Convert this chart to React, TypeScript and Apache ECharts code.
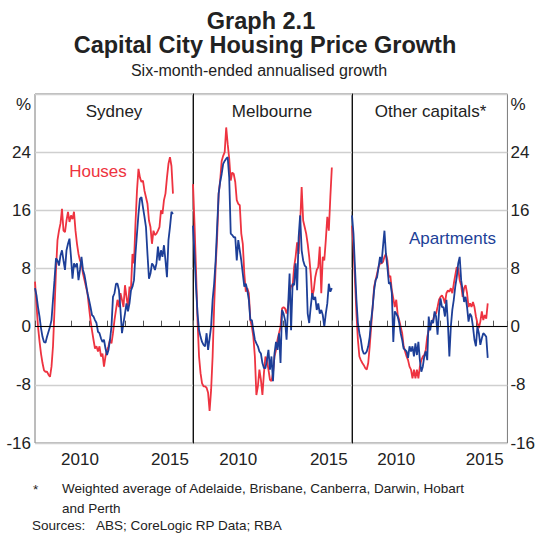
import React, { useEffect, useRef } from "react";
import * as echarts from "echarts";

// ---- Data (six-month-ended annualised growth, %, monthly from Jan 2008) ----
const START_YEAR = 2008;
const yTicks = [-16, -8, 0, 8, 16, 24];
const xTickLabels = ["2010", "2015"];
const panelTitles = ["Sydney", "Melbourne", "Other capitals*"];

const sydneyHouses = [
  6.2, 3.0, 0.0, -2.0, -3.7, -5.0, -6.0, -6.2, -6.2, -6.6, -6.9, -5.5, -2.7, 2.3, 7.8, 11.9, 13.2, 14.2, 16.2, 13.2,
  13.0, 14.6, 15.8, 14.4, 15.3, 14.8, 15.8, 13.2, 11.4, 10.0, 9.1, 8.7, 7.3, 6.4, 5.5, 4.6, 2.7, 0.9, -0.5, -1.8,
  -3.0, -2.7, -3.4, -2.7, -4.1, -3.7, -5.5, -4.1, -3.2, -2.7, -1.8, -2.3, -0.9, 0.9, 2.3, 3.7, 2.7, 4.6, 3.7, 2.7,
  5.7, 4.1, 2.7, 5.5, 5.2, 10.0, 8.7, 14.2, 18.7, 21.7, 20.5, 19.9, 20.1, 18.7, 17.8, 16.9, 14.6, 13.7, 11.4, 13.2,
  12.6, 12.8, 13.2, 13.7, 16.0, 15.5, 17.4, 18.3, 20.5, 22.4, 23.3, 22.1, 18.3,
];
const sydneyApartments = [
  5.3, 4.3, 2.7, 1.4, -0.2, -1.4, -2.1, -2.2, -1.4, -0.7, 0.0, 0.9, 3.7, 6.4, 9.4, 9.1, 8.4, 9.8, 10.5, 9.1,
  7.8, 10.5, 11.4, 12.1, 9.6, 6.6, 8.7, 8.2, 8.7, 6.4, 7.8, 9.6, 7.8, 7.1, 5.9, 4.6, 3.7, 2.7, 1.6, 1.4,
  0.9, 0.5, -0.7, -0.9, -1.6, -2.1, -1.8, -3.0, -3.9, -3.2, -1.8, 0.0, 4.1, 4.6, 5.9, 5.9, 5.0, 2.3, -0.9, 0.5,
  1.8, 3.2, 2.1, 3.2, 5.0, 5.5, 6.4, 10.0, 12.8, 15.5, 17.6, 17.8, 16.4, 15.1, 13.7, 10.0, 6.6, 7.3, 8.7, 8.4,
  7.8, 8.7, 11.0, 9.1, 10.5, 9.6, 11.2, 9.1, 6.8, 11.9, 13.7, 15.8, 15.5,
];
const melbourneHouses = [
  19.6, 14.2, 7.8, 0.9, -4.1, -6.4, -7.8, -8.2, -8.2, -8.4, -9.1, -11.6, -8.7, -4.1, 2.7, 8.2, 12.3, 18.3, 20.1, 22.8,
  23.5, 24.0, 27.4, 25.1, 23.1, 20.1, 21.2, 21.0, 19.9, 17.4, 16.9, 16.7, 12.8, 11.4, 7.3, 4.8, 5.3, 4.6, 0.9, 0.0,
  -1.4, -4.1, -9.4, -8.2, -5.9, -7.3, -9.4, -6.4, -4.1, -4.6, -5.9, -7.3, -7.5, -6.4, -4.1, -3.2, -1.8, -0.9, 0.0, 2.5,
  2.7, 2.5, 1.8, 2.7, 4.6, 5.7, 5.5, 8.2, 9.6, 11.6, 10.0, 14.2, 19.2, 14.6, 13.7, 12.8, 11.4, 9.6, 7.3, 4.1,
  5.0, 6.8, 7.8, 8.2, 11.0, 4.6, 9.6, 9.1, 11.9, 15.1, 13.2, 17.8, 21.9,
];
const melbourneApartments = [
  13.9, 10.0, 5.5, 1.8, -0.5, -1.4, -2.1, -2.5, -2.7, -0.9, -3.2, -1.6, 0.0, 3.7, 5.9, 9.1, 13.7, 18.3, 19.9, 21.0,
  22.4, 22.8, 23.1, 23.3, 20.5, 12.8, 12.6, 12.3, 12.3, 9.1, 11.9, 10.5, 9.1, 7.3, 5.5, 5.9, 5.0, 3.7, 0.9, 0.9,
  -0.5, -1.8, -2.3, -2.7, -3.4, -3.7, -5.0, -5.7, -5.7, -4.6, -3.2, -5.9, -4.1, -7.5, -3.7, -2.1, -3.2, -0.9, -5.0, 2.3,
  1.8, 0.9, -1.8, 2.7, 7.3, -0.5, 5.9, 5.7, 8.7, 5.0, 12.3, 15.3, 10.5, 9.1, 8.4, 8.2, 1.8, 0.5, 2.7, 4.6,
  3.7, 4.1, 2.3, 3.2, 1.8, 2.3, 1.6, 0.0, 1.8, 3.2, 5.9, 4.8, 5.3,
];
const otherHouses = [
  13.9, 11.0, 6.4, 1.8, -1.8, -4.1, -4.6, -5.0, -5.3, -5.7, -5.9, -5.0, -2.7, 0.0, 2.7, 5.5, 6.4, 7.3, 8.2, 8.7,
  8.7, 8.9, 9.6, 10.0, 9.1, 6.8, 7.0, 5.0, 3.9, 2.7, 3.7, 1.6, 0.9, 0.0, -0.9, -2.7, -3.4, -4.1, -4.6, -5.5,
  -5.9, -7.1, -5.9, -7.1, -5.9, -7.1, -5.5, -4.6, -4.1, -3.9, -3.2, -1.4, -0.5, 0.0, 0.5, 0.9, 1.8, 1.8, 2.7, 3.7,
  4.1, 4.3, 3.9, 3.2, 4.6, 5.0, 4.8, 5.3, 4.6, 5.9, 7.1, 8.2, 8.0, 6.4, 5.7, 4.1, 5.3, 5.7, 4.6, 2.7,
  3.2, 2.7, 3.4, 2.7, 1.4, 0.5, -0.2, 0.7, 2.1, 0.9, 1.6, 1.1, 3.2,
];
const otherApartments = [
  15.3, 12.8, 8.2, 3.7, 0.5, -0.9, -1.8, -3.2, -3.7, -3.7, -3.4, -2.7, -1.4, 0.9, 2.7, 5.0, 6.4, 6.8, 8.2, 9.6,
  8.7, 11.0, 13.2, 10.0, 8.2, 5.9, 6.1, 4.6, -2.1, 2.1, 1.8, 1.4, 0.5, -0.9, -1.8, -3.0, -3.2, -3.4, -4.3, -2.7,
  -3.4, -2.7, -4.1, -2.3, -3.9, -2.1, -4.6, -6.2, -5.5, -4.1, -3.4, -4.6, 1.4, -0.5, 0.9, 0.5, 2.1, 1.4, -1.1, 2.1,
  3.9, 2.7, 2.7, 1.4, 3.7, 0.5, -4.1, 0.0, 2.3, 3.7, 5.5, 6.8, 8.7, 9.6, 6.4, 5.0, 3.4, 4.1, 2.7, 0.7,
  1.8, 1.4, 0.0, -1.8, -2.7, 0.0, -0.9, -2.5, -1.6, -0.9, -1.1, -1.4, -4.3,
];

const RED = "#ee3340";
const BLUE = "#1d3f98";
const FONT = "'Liberation Sans', Arial, Helvetica, sans-serif";

const toPoints = (vals: number[]) => vals.map((v, i) => [START_YEAR + i / 12, v]);

export default function App() {
  const ref = useRef<HTMLDivElement>(null);

  useEffect(() => {
    if (!ref.current) return;
    const chart = echarts.init(ref.current, null, { renderer: "svg" });

    const gridTop = 94;
    const gridH = 349;
    const grids = [
      { left: 35, top: gridTop, width: 158, height: gridH },
      { left: 193, top: gridTop, width: 159, height: gridH },
      { left: 352, top: gridTop, width: 158, height: gridH },
    ].map((g) => ({ ...g, show: true, borderColor: "#7a7a7a", borderWidth: 1, backgroundColor: "transparent" }));

    const xAxes: any[] = [];
    [0, 1, 2].forEach((i) => {
      xAxes.push({
        gridIndex: i,
        type: "value",
        position: "bottom",
        min: 2008,
        max: 2016.78,
        interval: 1,
        axisLine: { show: false },
        axisTick: { show: true, inside: true, length: 6, lineStyle: { color: "#555", width: 1 } },
        axisLabel: { show: false },
        splitLine: { show: false },
      });
      xAxes.push({
        gridIndex: i,
        type: "value",
        position: "bottom",
        min: 2008,
        max: 2016.78,
        interval: 0.5,
        axisLine: { show: false },
        axisTick: { show: false },
        axisLabel: {
          interval: 0,
          margin: 8,
          fontSize: 17,
          color: "#222",
          fontFamily: FONT,
          showMinLabel: false,
          showMaxLabel: false,
          formatter: (v: number) => {
            for (const t of xTickLabels) {
              if (Math.abs(v - (Number(t) + 0.5)) < 1e-6) return t;
            }
            return "";
          },
        },
        splitLine: { show: false },
      });
    });

    const yLabelFmt = (v: number) => (v === 32 ? "{pct|%}" : yTicks.includes(v) ? String(v) : "");
    const yLabel = (show: boolean) => ({
      show,
      fontSize: 17,
      color: "#222",
      fontFamily: FONT,
      margin: 4,
      formatter: yLabelFmt,
      rich: { pct: { fontSize: 17, color: "#222", fontFamily: FONT, padding: [20, 0, 0, 0] } },
    });
    const split = { show: true, lineStyle: { color: "#cfcfcf", width: 1.3 } };
    const yAxes: any[] = [
      { gridIndex: 0, type: "value", position: "left", min: -16, max: 32, interval: 8,
        axisLine: { show: false }, axisTick: { show: false }, axisLabel: yLabel(true), splitLine: split },
      { gridIndex: 1, type: "value", position: "left", min: -16, max: 32, interval: 8,
        axisLine: { show: true, lineStyle: { color: "#111", width: 1 } }, axisTick: { show: false },
        axisLabel: yLabel(false), splitLine: split },
      { gridIndex: 2, type: "value", position: "right", min: -16, max: 32, interval: 8,
        axisLine: { show: false }, axisTick: { show: false }, axisLabel: { ...yLabel(true), margin: 3 }, splitLine: split },
      { gridIndex: 2, type: "value", position: "left", min: -16, max: 32, interval: 8,
        axisLine: { show: true, lineStyle: { color: "#111", width: 1 } }, axisTick: { show: false },
        axisLabel: { show: false }, splitLine: { show: false } },
    ];

    const panels = [
      { houses: sydneyHouses, apts: sydneyApartments, y: 0 },
      { houses: melbourneHouses, apts: melbourneApartments, y: 1 },
      { houses: otherHouses, apts: otherApartments, y: 2 },
    ];
    const series: any[] = [];
    panels.forEach((p, i) => {
      series.push({
        type: "line",
        name: "Houses",
        xAxisIndex: i * 2,
        yAxisIndex: p.y,
        data: toPoints(p.houses),
        showSymbol: false,
        lineStyle: { color: RED, width: 1.8 },
        itemStyle: { color: RED },
        silent: true,
        z: 3,
        markLine: {
          silent: true,
          symbol: ["none", "none"],
          label: { show: false },
          lineStyle: { color: "#000", type: "solid", width: 1 },
          data: [{ yAxis: 0 }],
        },
      });
      series.push({
        type: "line",
        name: "Apartments",
        xAxisIndex: i * 2,
        yAxisIndex: p.y,
        data: toPoints(p.apts),
        showSymbol: false,
        lineStyle: { color: BLUE, width: 1.8 },
        itemStyle: { color: BLUE },
        silent: true,
        z: 4,
      });
    });

    const txt = (text: string, x: number, y: number, opts: any = {}) => {
      const size = opts.size ?? 17;
      return {
        type: "text",
        x,
        y,
        silent: true,
        style: {
          text,
          fontFamily: FONT,
          fontSize: size,
          lineHeight: Math.round(size * 0.85),
          fontWeight: opts.weight ?? "normal",
          fill: opts.color ?? "#222",
          textAlign: opts.align ?? "center",
          textVerticalAlign: "middle",
        },
      };
    };

    chart.setOption({
      animation: false,
      grid: grids,
      xAxis: xAxes,
      yAxis: yAxes,
      series,
      graphic: [
        txt("Graph 2.1", 261, 20.5, { size: 23.5, weight: "bold" }),
        txt("Capital City Housing Price Growth", 265, 45, { size: 23.5, weight: "bold" }),
        txt("Six-month-ended annualised growth", 259, 70.5, { size: 16 }),
        txt(panelTitles[0], 114, 111.5),
        txt(panelTitles[1], 272, 111.5),
        txt(panelTitles[2], 430.5, 111.5),
        txt("Houses", 98, 171, { color: RED }),
        txt("Apartments", 452.5, 238, { color: BLUE }),
        txt("*", 33, 489, { size: 13.5, align: "left" }),
        txt("Weighted average of Adelaide, Brisbane, Canberra, Darwin, Hobart", 62, 488, { size: 13.5, align: "left" }),
        txt("and Perth", 62, 508, { size: 13.5, align: "left" }),
        txt("Sources:", 32, 525, { size: 13.5, align: "left" }),
        txt("ABS; CoreLogic RP Data; RBA", 96, 525, { size: 13.5, align: "left" }),
      ],
    });

    return () => chart.dispose();
  }, []);

  return (
    <div
      ref={ref}
      style={{ position: "absolute", left: 0, top: 0, width: 538, height: 536, background: "#fff" }}
    />
  );
}
